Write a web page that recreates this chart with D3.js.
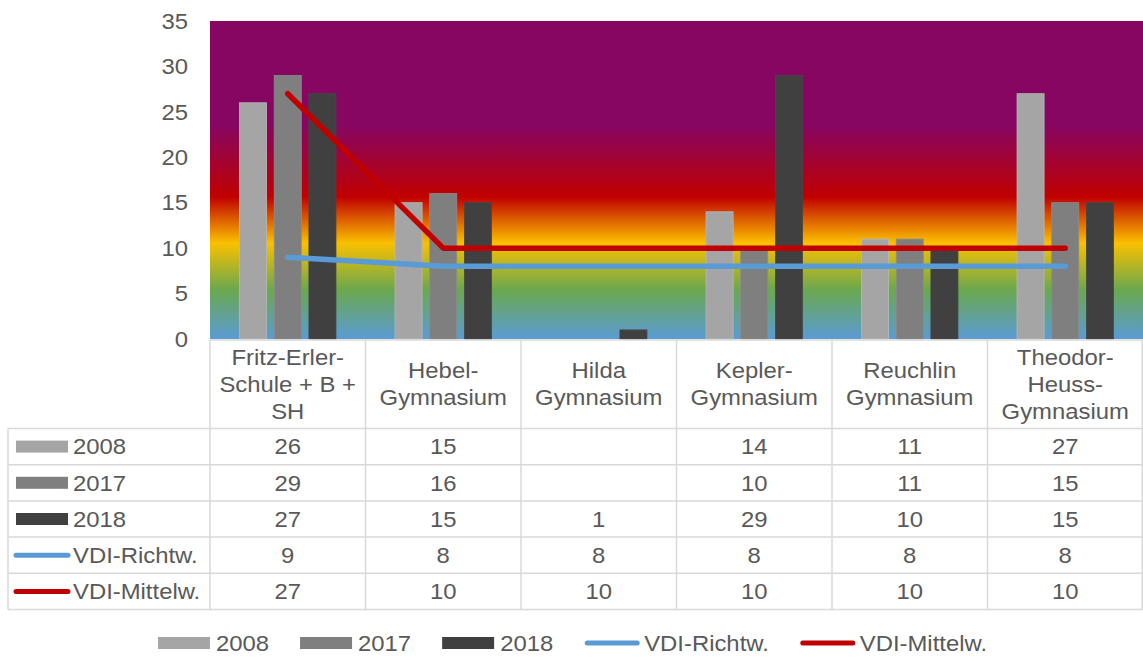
<!DOCTYPE html>
<html>
<head>
<meta charset="utf-8">
<script src="https://cdn.jsdelivr.net/npm/d3@7"></script>
<style>
  body { margin: 0; background: #fff; }
  svg text { font-family: "Liberation Sans", Arial, sans-serif; fill: #595959; font-size: 22px; }
</style>
</head>
<body>
<svg id="chart" width="1143" height="659"></svg>
<script>
// data
const schools = [
    ["Fritz-Erler-", "Schule + B +", "SH"],
    ["Hebel-", "Gymnasium"],
    ["Hilda", "Gymnasium"],
    ["Kepler-", "Gymnasium"],
    ["Reuchlin", "Gymnasium"],
    ["Theodor-", "Heuss-", "Gymnasium"]
];
const years = ["2008", "2017", "2018"];
const values2008 = [26, 15, null, 14, 11, 27];
const values2017 = [29, 16, null, 10, 11, 15];
const values2018 = [27, 15, 1, 29, 10, 15];
const richtwert = [9, 8, 8, 8, 8, 8];
const mittelwert = [27, 10, 10, 10, 10, 10];
const yTicks = [0, 5, 10, 15, 20, 25, 30, 35];

const barColors = ["#a5a5a5", "#7f7f7f", "#404040"];
const barValues = [values2008, values2017, values2018];
const lineSeries = [
    { name: "VDI-Richtw.", values: richtwert, color: "#5b9bd5" },
    { name: "VDI-Mittelw.", values: mittelwert, color: "#c00000" }
];

const svg = d3.select("#chart");
const plotLeft = 210, plotRight = 1143, plotTop = 21, plotBottom = 339;
const stretch = 1.085; // the source font runs a bit wider than Liberation Sans

// text helper: places a (slightly widened) label at x,y
function label(parent, x, y, str, anchor) {
    return parent.append("text")
        .attr("transform", `translate(${x},${y}) scale(${stretch},1)`)
        .attr("dy", "0.35em")
        .attr("text-anchor", anchor || "start")
        .text(str);
}

const x = d3.scaleBand().domain(d3.range(schools.length)).range([plotLeft, plotRight]);
const xInner = d3.scaleBand().domain(years)
    .range([x.bandwidth() * 0.19, x.bandwidth() * 0.81]).paddingInner(0.22);
const y = d3.scaleLinear().domain([0, 35]).range([plotBottom, plotTop]);

// background gradient of the plot area
const grad = svg.append("defs").append("linearGradient")
    .attr("id", "bg").attr("x1", 0).attr("x2", 0).attr("y1", 0).attr("y2", 1);
[[0, "#870661"], [0.33, "#870661"], [0.553, "#c00000"], [0.698, "#fac000"],
 [0.846, "#6aa84f"], [1, "#5b9bd5"]].forEach(s => {
    grad.append("stop").attr("offset", s[0]).attr("stop-color", s[1]);
});
svg.append("rect")
    .attr("x", plotLeft).attr("y", plotTop)
    .attr("width", plotRight - plotLeft).attr("height", plotBottom - plotTop)
    .attr("fill", "url(#bg)");

// y axis labels
const yAxis = svg.append("g");
yTicks.forEach(t => label(yAxis, 188, y(t), t, "end"));

// bars
years.forEach((yr, k) => {
    svg.append("g").selectAll("rect")
        .data(barValues[k].map((v, i) => ({ i, v })).filter(d => d.v != null))
        .join("rect")
        .attr("x", d => x(d.i) + xInner(yr))
        .attr("width", xInner.bandwidth())
        .attr("y", d => y(d.v))
        .attr("height", d => y(0) - y(d.v))
        .attr("fill", barColors[k])
        .attr("stroke", d3.color(barColors[k]).brighter(0.3))
        .attr("stroke-width", 0.8);
});

// lines
const line = d3.line()
    .x((d, i) => x(i) + x.bandwidth() / 2)
    .y(d => y(d));
lineSeries.forEach(s => {
    svg.append("path")
        .datum(s.values)
        .attr("d", line)
        .attr("fill", "none")
        .attr("stroke", s.color)
        .attr("stroke-width", 5.5)
        .attr("stroke-linecap", "round")
        .attr("stroke-linejoin", "round");
});

// data table
const headTop = 340, headBottom = 428.5, rowH = 36.2;
const tableRows = [
    { name: "2008", values: values2008, color: barColors[0], type: "bar" },
    { name: "2017", values: values2017, color: barColors[1], type: "bar" },
    { name: "2018", values: values2018, color: barColors[2], type: "bar" },
    { name: lineSeries[0].name, values: richtwert, color: lineSeries[0].color, type: "line" },
    { name: lineSeries[1].name, values: mittelwert, color: lineSeries[1].color, type: "line" }
];
const tableBottom = headBottom + rowH * tableRows.length;
const grid = svg.append("g").attr("stroke", "#d9d9d9").attr("stroke-width", 1.5);

grid.append("line").attr("x1", plotLeft).attr("x2", plotRight).attr("y1", headTop).attr("y2", headTop);
d3.range(tableRows.length + 1).forEach(r => {
    grid.append("line").attr("x1", 8).attr("x2", plotRight)
        .attr("y1", headBottom + r * rowH).attr("y2", headBottom + r * rowH);
});
grid.append("line").attr("x1", 8).attr("x2", 8).attr("y1", headBottom).attr("y2", tableBottom);
d3.range(schools.length + 1).forEach(i => {
    const xx = i < schools.length ? x(i) : plotRight - 0.75;
    grid.append("line").attr("x1", xx).attr("x2", xx).attr("y1", headTop).attr("y2", tableBottom);
});

// header labels
const header = svg.append("g");
schools.forEach((lines, i) => {
    const cy = (headTop + headBottom) / 2;
    const lh = 27;
    lines.forEach((ln, j) => {
        label(header, x(i) + x.bandwidth() / 2, cy + (j - (lines.length - 1) / 2) * lh, ln, "middle");
    });
});

// table rows
const body = svg.append("g");
tableRows.forEach((row, r) => {
    const cy = headBottom + r * rowH + rowH / 2;
    if (row.type === "bar") {
        body.append("rect").attr("x", 16).attr("y", cy - 6)
            .attr("width", 52).attr("height", 12).attr("fill", row.color);
    } else {
        body.append("line").attr("x1", 16).attr("x2", 68).attr("y1", cy).attr("y2", cy)
            .attr("stroke", row.color).attr("stroke-width", 5).attr("stroke-linecap", "round");
    }
    label(body, 73, cy, row.name);
    row.values.forEach((v, i) => {
        if (v == null) return;
        label(body, x(i) + x.bandwidth() / 2, cy, v, "middle");
    });
});

// bottom legend
const legend = svg.append("g");
let lx = 158;
const ly = 643;
tableRows.forEach(row => {
    if (row.type === "bar") {
        legend.append("rect").attr("x", lx).attr("y", ly - 6)
            .attr("width", 52).attr("height", 12).attr("fill", row.color);
        lx += 58;
    } else {
        legend.append("line").attr("x1", lx + 3).attr("x2", lx + 53).attr("y1", ly).attr("y2", ly)
            .attr("stroke", row.color).attr("stroke-width", 5).attr("stroke-linecap", "round");
        lx += 60;
    }
    const t = label(legend, lx, ly, row.name);
    lx += t.node().getComputedTextLength() * stretch + 31;
});
</script>
</body>
</html>
